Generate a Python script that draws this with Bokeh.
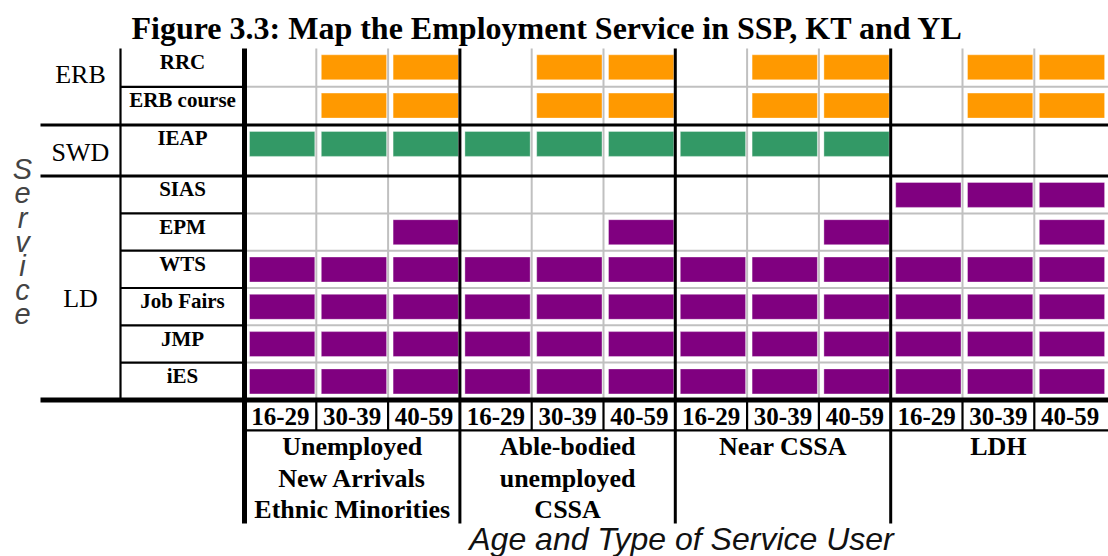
from bokeh.plotting import figure
from bokeh.models import Range1d
from bokeh.core.properties import value
from bokeh.embed import file_html
from bokeh.resources import INLINE

# ---------------- data ----------------
title_text = "Figure 3.3: Map the Employment Service in SSP, KT and YL"
x_title = "Age and Type of Service User"
y_title = "Service"

departments = ["ERB", "SWD", "LD"]
services = ["RRC", "ERB course", "IEAP", "SIAS", "EPM", "WTS", "Job Fairs", "JMP", "iES"]
service_dept = ["ERB", "ERB", "SWD", "LD", "LD", "LD", "LD", "LD", "LD"]

age_groups = ["16-29", "30-39", "40-59"]
user_types = [
    ["Unemployed", "New Arrivals", "Ethnic Minorities"],
    ["Able-bodied", "unemployed", "CSSA"],
    ["Near CSSA"],
    ["LDH"],
]

# 1 = service offered, per (user type x age group) column
avail_rrc       = [0, 1, 1, 0, 1, 1, 0, 1, 1, 0, 1, 1]
avail_erb       = [0, 1, 1, 0, 1, 1, 0, 1, 1, 0, 1, 1]
avail_ieap      = [1, 1, 1, 1, 1, 1, 1, 1, 1, 0, 0, 0]
avail_sias      = [0, 0, 0, 0, 0, 0, 0, 0, 0, 1, 1, 1]
avail_epm       = [0, 0, 1, 0, 0, 1, 0, 0, 1, 0, 0, 1]
avail_wts       = [1, 1, 1, 1, 1, 1, 1, 1, 1, 1, 1, 1]
avail_jobfairs  = [1, 1, 1, 1, 1, 1, 1, 1, 1, 1, 1, 1]
avail_jmp       = [1, 1, 1, 1, 1, 1, 1, 1, 1, 1, 1, 1]
avail_ies       = [1, 1, 1, 1, 1, 1, 1, 1, 1, 1, 1, 1]
availability = [avail_rrc, avail_erb, avail_ieap, avail_sias, avail_epm,
                avail_wts, avail_jobfairs, avail_jmp, avail_ies]

# ---------------- styles / layout ----------------
dept_colors = {"ERB": "#FF9900", "SWD": "#339966", "LD": "#800080"}
SERIF = value("Liberation Serif")
SANS = value("Liberation Sans")

W, H = 1108, 556

grid_left = 244.0
col_w = 71.8
grid_top = 48.0
multi_row_h = {"ERB": 38.3, "LD": 37.3}
single_row_h = 51.0
label_col_left = 120.0
dept_line_left = 40.0
age_row_bottom_off = 30.5
group_area_bottom = 523.0
dept_label_x = 80
dept_label_offsets = [-4, 10, 19]   # baseline offset from the block centre
BASE_SHIFT = 0.32                   # alphabetic-baseline correction (x font size)


def bl_y(y, fs):
    return y - BASE_SHIFT * fs


n_cols = len(user_types) * len(age_groups)
grid_right = W
n_age = len(age_groups)

dept_count = {d: service_dept.count(d) for d in departments}
row_tops, row_bots = [], []
y = grid_top
for s, d in zip(services, service_dept):
    h = single_row_h if dept_count[d] == 1 else multi_row_h[d]
    row_tops.append(y)
    y += h
    row_bots.append(y)
grid_bottom = y
age_row_bottom = grid_bottom + age_row_bottom_off

dept_top, dept_bot = {}, {}
for i, d in enumerate(service_dept):
    dept_top.setdefault(d, row_tops[i])
    dept_bot[d] = row_bots[i]

col_edges = [grid_left + j * col_w for j in range(n_cols + 1)]

p = figure(width=W, height=H, output_backend="svg", toolbar_location=None,
           x_range=Range1d(0, W), y_range=Range1d(H, 0),
           min_border=0, min_border_left=0, min_border_right=0,
           min_border_top=0, min_border_bottom=0)
p.axis.visible = False
p.xgrid.visible = False
p.ygrid.visible = False
p.outline_line_color = None
p.background_fill_color = "white"
p.border_fill_color = "white"

# ---- gray cell grid ----
gx0, gy0, gx1, gy1 = [], [], [], []
for j in range(1, n_cols):
    if j % n_age != 0:
        gx0.append(col_edges[j]); gx1.append(col_edges[j])
        gy0.append(grid_top); gy1.append(grid_bottom)
for i in range(len(services) - 1):
    if service_dept[i] == service_dept[i + 1]:
        gx0.append(grid_left); gx1.append(grid_right)
        gy0.append(row_bots[i]); gy1.append(row_bots[i])
p.segment(x0=gx0, y0=gy0, x1=gx1, y1=gy1, line_color="#c0c0c0", line_width=2)

# ---- bars ----
bl, br, bt, bb, bc = [], [], [], [], []
for i, (s, d) in enumerate(zip(services, service_dept)):
    for j, v in enumerate(availability[i]):
        if v:
            bl.append(col_edges[j] + 5)
            br.append(col_edges[j] + col_w - 1.5)
            bt.append(row_tops[i] + 6.3)
            bb.append(row_tops[i] + 31.3)
            bc.append(dept_colors[d])
p.quad(left=bl, right=br, top=bt, bottom=bb, fill_color=bc,
       line_color="white", line_alpha=0.35, line_width=1)

# ---- black structure lines ----
tx0, ty0, tx1, ty1 = [], [], [], []
for i in range(len(services) - 1):
    if service_dept[i] == service_dept[i + 1]:
        tx0.append(label_col_left); tx1.append(grid_left)
        ty0.append(row_bots[i]); ty1.append(row_bots[i])
tx0.append(label_col_left); tx1.append(label_col_left)
ty0.append(grid_top); ty1.append(grid_bottom)
for j in range(1, n_cols):
    if j % n_age != 0:
        tx0.append(col_edges[j]); tx1.append(col_edges[j])
        ty0.append(grid_bottom); ty1.append(age_row_bottom)
tx0.append(grid_left); tx1.append(grid_right)
ty0.append(age_row_bottom); ty1.append(age_row_bottom)
p.segment(x0=tx0, y0=ty0, x1=tx1, y1=ty1, line_color="black", line_width=2.2)

mx0, my0, mx1, my1 = [], [], [], []
for d in departments[:-1]:
    mx0.append(dept_line_left); mx1.append(grid_right)
    my0.append(dept_bot[d]); my1.append(dept_bot[d])
for g in range(1, len(user_types)):
    x = col_edges[g * n_age]
    mx0.append(x); mx1.append(x)
    my0.append(grid_top); my1.append(group_area_bottom)
p.segment(x0=mx0, y0=my0, x1=mx1, y1=my1, line_color="black", line_width=3)

p.segment(x0=[grid_left, dept_line_left], y0=[grid_top, grid_bottom],
          x1=[grid_left, grid_right], y1=[group_area_bottom, grid_bottom],
          line_color="black", line_width=5)

# ---- texts ----
p.text(x=[547], y=[bl_y(38, 32)], text=[title_text], text_font=SERIF,
       text_font_style="bold", text_font_size="32px", text_align="center",
       text_baseline="alphabetic", text_color="black")

dy = [bl_y((dept_top[d] + dept_bot[d]) / 2 + off, 26)
      for d, off in zip(departments, dept_label_offsets)]
p.text(x=[dept_label_x] * len(departments), y=dy, text=departments, text_font=SERIF,
       text_font_size="26px", text_align="center", text_baseline="alphabetic",
       text_color="black")

p.text(x=[182] * len(services), y=[bl_y(t + 20, 21) for t in row_tops], text=services,
       text_font=SERIF, text_font_style="bold", text_font_size="21px",
       text_align="center", text_baseline="alphabetic", text_color="black")

ax = [col_edges[j] + col_w / 2 for j in range(n_cols)]
at = [age_groups[j % n_age] for j in range(n_cols)]
p.text(x=ax, y=[bl_y(grid_bottom + 24.5, 25)] * n_cols, text=at, text_font=SERIF,
       text_font_style="bold", text_font_size="25px", text_align="center",
       text_baseline="alphabetic", text_color="black")

ux, uy, ut = [], [], []
for g, lines in enumerate(user_types):
    cx = col_edges[g * n_age] + n_age * col_w / 2
    for k, line in enumerate(lines):
        ux.append(cx); uy.append(bl_y(age_row_bottom + 24.5 + k * 31.5, 26)); ut.append(line)
p.text(x=ux, y=uy, text=ut, text_font=SERIF, text_font_style="bold",
       text_font_size="26px", text_align="center", text_baseline="alphabetic",
       text_color="black")

p.text(x=[681], y=[bl_y(549, 32)], text=[x_title], text_font=SANS,
       text_font_style="italic", text_font_size="32px", text_align="center",
       text_baseline="alphabetic", text_color="#111111")

letters = list(y_title)
p.text(x=[22] * len(letters), y=[bl_y(178 + k * 24.2, 29) for k in range(len(letters))],
       text=letters, text_font=SANS, text_font_style="italic", text_font_size="29px",
       text_align="center", text_baseline="alphabetic", text_color="#444444")

open("out.html", "w").write(file_html(p, INLINE))
